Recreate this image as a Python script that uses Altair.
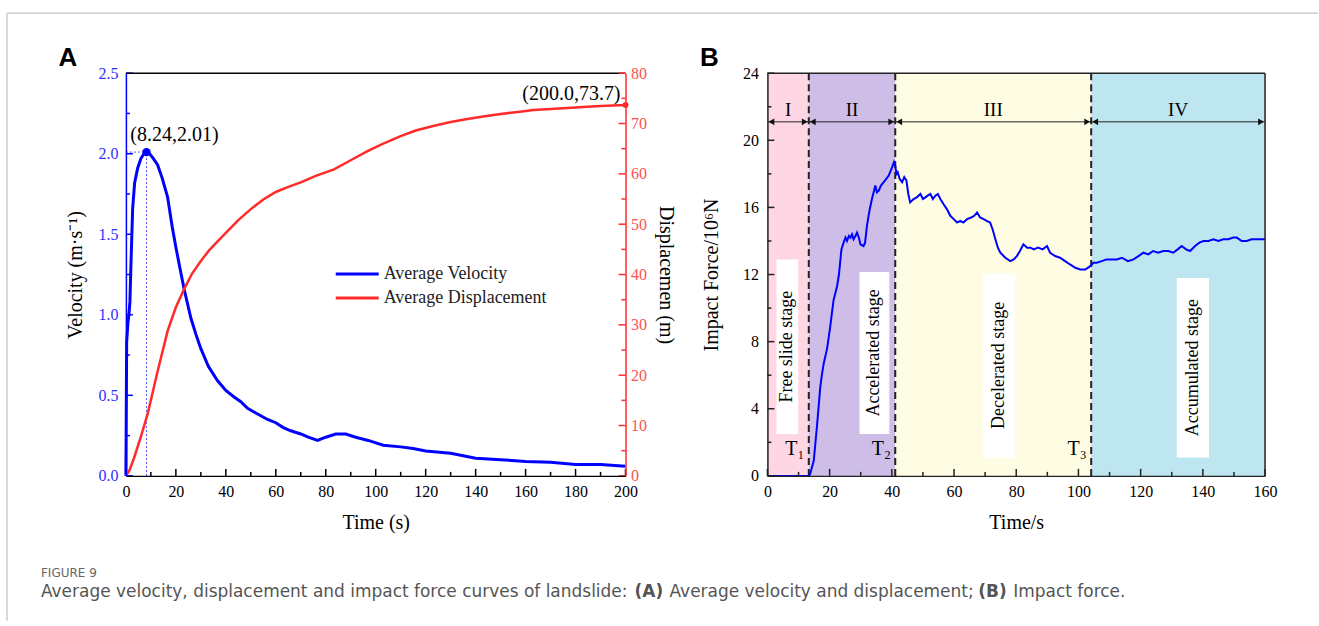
import altair as alt
import pandas as pd

SERIF = "Liberation Serif"
SANS = "Liberation Sans"
CAP = "DejaVu Sans"

# ---------------- Panel A data ----------------
series_names = ["Average Velocity", "Average Displacement"]
vel_t = [0, 0.3, 0.8, 1.2, 1.6, 2.0, 2.7, 3.5, 4.7, 6.0, 7.2, 8.24, 9.5, 11.0, 12.7, 14.5,
         16.7, 18.5, 20.0, 21.5, 23.3, 26.0, 28, 30, 33, 36.7, 40, 43.3, 46, 48.7, 52,
         56.7, 60, 63, 66, 70, 73, 76.7, 80, 84, 88, 92, 97, 103, 110, 115, 120, 130,
         140, 150, 160, 170, 180, 190, 200]
vel_v = [0, 0.83, 0.95, 1.0, 1.08, 1.3, 1.66, 1.82, 1.91, 1.97, 2.0, 2.01, 2.0, 1.97, 1.93,
         1.85, 1.73, 1.55, 1.42, 1.3, 1.16, 0.98, 0.88, 0.79, 0.68, 0.59, 0.53, 0.49, 0.46,
         0.42, 0.39, 0.35, 0.33, 0.30, 0.28, 0.26, 0.24, 0.22, 0.24, 0.26, 0.26, 0.24, 0.22,
         0.19, 0.18, 0.17, 0.155, 0.14, 0.11, 0.10, 0.09, 0.085, 0.07, 0.07, 0.06]
disp_t = [0, 1.5, 3.3, 6, 8.7, 12.7, 16.7, 20, 23.3, 26.5, 30, 33.3, 36.7, 40.7, 45, 50, 55,
          60, 65, 70, 76, 83.3, 90, 96.7, 103, 110, 116, 123, 130, 136.7, 143, 150, 157,
          163, 170, 176.7, 183, 190, 200]
disp_d = [0, 1.2, 3.6, 7.8, 12.3, 20.8, 28.8, 33.5, 37.1, 40.2, 42.7, 44.8, 46.6, 48.6,
          50.8, 53.0, 54.9, 56.4, 57.4, 58.3, 59.6, 60.9, 62.7, 64.5, 66.0, 67.5, 68.6,
          69.5, 70.3, 70.9, 71.4, 71.9, 72.3, 72.7, 72.9, 73.1, 73.3, 73.5, 73.7]
peak_t, peak_v = 8.24, 2.01
end_t, end_d = 200.0, 73.7
peak_label = "(8.24,2.01)"
end_label = "(200.0,73.7)"
a_x_major = list(range(0, 201, 20))
a_x_minor = list(range(10, 200, 20))
vel_major = [0.0, 0.5, 1.0, 1.5, 2.0, 2.5]
vel_minor = [0.25, 0.75, 1.25, 1.75, 2.25]
disp_major = list(range(0, 81, 10))
disp_minor = list(range(5, 80, 10))

# ---------------- Panel B data ----------------
force_t = [0, 13.3, 13.7, 14.9, 16.0, 17.0, 17.5, 18.1, 19.2, 20.2, 20.8, 21.3, 22.4, 23.0,
           23.8, 24.5, 25.1, 25.6, 26.2, 26.7, 27.2, 27.7, 28.3, 28.8, 29.4, 29.9, 30.9,
           31.4, 32.0, 32.8, 33.6, 34.7, 35.2, 35.8, 36.5, 37.4, 38.2, 39.0, 40.1, 40.7,
           41.1, 41.5, 41.9, 42.5, 43.3, 44.0, 44.7, 45.3, 45.9, 47.0, 48.0, 49.2, 50.0,
           50.8, 51.5, 52.4, 53.2, 54.0, 54.8, 55.6, 56.6, 57.7, 58.8, 59.9, 61.0, 62.0,
           63.0, 64.2, 65.5, 66.5, 67.4, 68.4, 69.5, 70.5, 71.6, 72.4, 73.3, 74.1, 74.9,
           76.5, 78.1, 79.2, 80.2, 81.2, 82.3, 83.5, 84.6, 85.6, 87.0, 88.5, 89.9, 90.9,
           92.5, 94.1, 95.7, 97.3, 99.0, 100.6, 102.2, 103.8, 104.8, 105.9, 107.5, 109.0,
           110.6, 112.3, 114.0, 115.9, 117.7, 119.3, 120.9, 122.5, 124.0, 125.6, 127.3,
           128.9, 130.5, 131.9, 133.2, 134.6, 135.9, 137.5, 138.9, 140.2, 141.8, 143.4,
           145.0, 146.6, 148.2, 149.8, 150.9, 152.5, 154.1, 155.7, 157.3, 158.6, 160]
force_f = [0, 0, 0.1, 0.9, 3.1, 5.3, 6.0, 6.7, 7.6, 8.9, 9.8, 10.5, 11.3, 12.0,
           13.5, 13.9, 14.2, 14.0, 14.3, 14.2, 14.4, 14.1, 14.3, 14.5, 14.2, 13.8, 13.7,
           13.9, 14.9, 15.8, 16.5, 17.3, 16.9, 17.0, 17.3, 17.5, 17.7, 17.9, 18.4, 18.7,
           18.5, 18.0, 18.1, 17.7, 17.5, 17.8, 17.6, 16.8, 16.3, 16.5, 16.6, 16.8, 16.5,
           16.6, 16.7, 16.8, 16.5, 16.7, 16.8, 16.5, 16.2, 15.9, 15.5, 15.3, 15.1, 15.2,
           15.1, 15.3, 15.4, 15.5, 15.7, 15.4, 15.3, 15.2, 15.1, 14.7, 14.1, 13.6, 13.3,
           13.0, 12.8, 12.9, 13.1, 13.4, 13.8, 13.6, 13.6, 13.5, 13.6, 13.5, 13.7, 13.3,
           13.1, 13.0, 12.8, 12.6, 12.4, 12.3, 12.3, 12.5, 12.7, 12.7, 12.8, 12.9,
           12.9, 12.9, 13.0, 12.8, 12.9, 13.1, 13.3, 13.2, 13.4, 13.3, 13.4,
           13.4, 13.3, 13.5, 13.7, 13.5, 13.4, 13.7, 13.9, 14.0, 14.0, 14.1,
           14.0, 14.1, 14.1, 14.2, 14.2, 14.0, 14.0, 14.1, 14.1, 14.1, 14.1]
stage_num = ["I", "II", "III", "IV"]
stage_start = [0, 13.3, 41.1, 104.1]
stage_end = [13.3, 41.1, 104.1, 160]
stage_text = ["Free slide  stage", "Accelerated  stage", "Decelerated  stage", "Accumulated  stage"]
stage_colors = ["#FFD6E4", "#CDBDE7", "#FEFDE3", "#BEE6F0"]
box_x0 = [2.9, 29.6, 69.3, 131.6]
box_x1 = [9.9, 39.2, 79.7, 142.0]
box_y0 = [2.5, 2.5, 1.1, 1.1]
box_y1 = [12.9, 12.15, 12.07, 11.8]
t_marks = [13.3, 41.1, 104.1]
t_names = ["T\u2081", "T\u2082", "T\u2083"]
b_x_major = list(range(0, 161, 20))
b_x_minor = list(range(10, 160, 20))
f_major = list(range(0, 25, 4))
f_minor = list(range(2, 24, 4))
arrow_level = 21.1
roman_level = 21.8
t_label_level = 1.6

caption_head = "FIGURE 9"
caption_parts = ["Average velocity, displacement and impact force curves of landslide:",
                 "(A)", "Average velocity and displacement;", "(B)", "Impact force."]

# ---------------- layout sizes ----------------
WA, HA = 500, 403
WB, HB = 498, 403
BLUE = "#0000FF"
RED = "#FF2A2A"
MAJ, MIN = 7, 4


def txt(label, x, y, **kw):
    return alt.Chart(pd.DataFrame({"label": [label]})).mark_text(**kw).encode(
        x=alt.value(x), y=alt.value(y), text="label:N")


def hrule(x1, x2, y, **kw):
    return alt.Chart(pd.DataFrame({"a": [0]})).mark_rule(**kw).encode(
        x=alt.value(x1), x2=alt.value(x2), y=alt.value(y))


def vrule(x, y1, y2, **kw):
    return alt.Chart(pd.DataFrame({"a": [0]})).mark_rule(**kw).encode(
        x=alt.value(x), y=alt.value(y1), y2=alt.value(y2))


def xticks(vals, scale, axis, H, length, color="black"):
    return alt.Chart(pd.DataFrame({"tick": vals})).mark_rule(color=color, strokeWidth=1.5).encode(
        x=alt.X("tick:Q", scale=scale, axis=axis), y=alt.value(H), y2=alt.value(H - length))


def yticks(vals, scale, axis, x0, length, color):
    return alt.Chart(pd.DataFrame({"tick": vals})).mark_rule(color=color, strokeWidth=1.5).encode(
        y=alt.Y("tick:Q", scale=scale, axis=axis), x=alt.value(x0), x2=alt.value(x0 + length))


# ================= Panel A =================
xA = alt.Scale(domain=[0, 200], nice=False, zero=False)
yV = alt.Scale(domain=[0, 2.5], nice=False)
yD = alt.Scale(domain=[0, 80], nice=False)

xA_axis = alt.Axis(values=a_x_major, title="Time (s)", ticks=False, grid=False,
                   domainColor="black", domainWidth=1.5, labelFont=SERIF, labelFontSize=16,
                   labelColor="black", labelPadding=8, labelFlush=False,
                   titleFont=SERIF, titleFontSize=20, titleFontWeight="normal",
                   titleColor="black", titlePadding=13, zindex=1)
yV_axis = alt.Axis(orient="left", values=vel_major, format=".1f", title="Velocity (m·s⁻¹)",
                   ticks=False, grid=False, domainColor=BLUE, domainWidth=1.5,
                   labelColor="#3030FF", labelFont=SERIF, labelFontSize=16, labelPadding=8,
                   titleFont=SERIF, titleFontSize=20, titleFontWeight="normal",
                   titleColor="black", titlePadding=12, zindex=1)
yD_axis = alt.Axis(orient="right", values=disp_major, title="Displacemen (m)",
                   ticks=False, grid=False, domainColor=RED, domainWidth=1.5,
                   labelColor="#FF5050", labelFont=SERIF, labelFontSize=16, labelPadding=5,
                   titleFont=SERIF, titleFontSize=20, titleFontWeight="normal",
                   titleColor="black", titlePadding=9, zindex=1)

vel_df = pd.DataFrame({"t": vel_t, "v": vel_v})
disp_df = pd.DataFrame({"t": disp_t, "d": disp_d})
peak_df = pd.DataFrame({"t": [peak_t], "v": [peak_v], "z": [0.0], "label": [peak_label]})
end_df = pd.DataFrame({"t": [end_t], "d": [end_d], "label": [end_label]})


def XA(f):
    return alt.X(f, scale=xA, axis=xA_axis)


def YV(f):
    return alt.Y(f, scale=yV, axis=yV_axis)


def YD(f):
    return alt.Y(f, scale=yD, axis=yD_axis)


vel_line = alt.Chart(vel_df).mark_line(color=BLUE, strokeWidth=3).encode(x=XA("t:Q"), y=YV("v:Q"))
peak_v_rule = alt.Chart(peak_df).mark_rule(color="#5555FF", strokeWidth=1, strokeDash=[2, 2]).encode(
    x=XA("t:Q"), y=YV("z:Q"), y2="v:Q")
peak_h_rule = alt.Chart(peak_df).mark_rule(color="#5555FF", strokeWidth=1, strokeDash=[2, 2]).encode(
    x=XA("z:Q"), x2="t:Q", y=YV("v:Q"))
peak_pt = alt.Chart(peak_df).mark_circle(color=BLUE, size=70, opacity=1).encode(x=XA("t:Q"), y=YV("v:Q"))
peak_txt = alt.Chart(peak_df).mark_text(font=SERIF, fontSize=20, color="black", dx=28, dy=-17,
                                        align="center", baseline="middle").encode(
    x=XA("t:Q"), y=YV("v:Q"), text="label:N")

cap_kw = dict(font=CAP, fontSize=17, color="#555555", align="left", baseline="middle")
vel_group = alt.layer(
    vel_line,
    xticks(a_x_major, xA, xA_axis, HA, MAJ), xticks(a_x_minor, xA, xA_axis, HA, MIN),
    yticks(vel_major, yV, yV_axis, 0, MAJ, BLUE), yticks(vel_minor, yV, yV_axis, 0, MIN, BLUE),
    peak_v_rule, peak_h_rule, peak_pt, peak_txt,
    hrule(0, WA, 0, color="black", strokeWidth=1.5),
    hrule(210, 253, 201, color=BLUE, strokeWidth=3),
    hrule(210, 253, 225, color=RED, strokeWidth=3),
    txt(series_names[0], 258, 201, font=SERIF, fontSize=18, color="#222222", align="left", baseline="middle"),
    txt(series_names[1], 258, 225, font=SERIF, fontSize=18, color="#222222", align="left", baseline="middle"),
    txt("A", -58, -15, font=SANS, fontSize=26, fontWeight="bold", color="black", align="center", baseline="middle"),
    hrule(-119, 1193, -60, color="#CCCCCC", strokeWidth=1.5),
    vrule(-119, -60, 548, color="#CCCCCC", strokeWidth=1.5),
    txt(caption_head, -85, 500, font=CAP, fontSize=12, color="#666666", align="left", baseline="middle"),
    txt(caption_parts[0], -85, 519, **cap_kw),
    txt(caption_parts[1], 509, 519, **{**cap_kw, "fontWeight": "bold"}),
    txt(caption_parts[2], 544, 519, **cap_kw),
    txt(caption_parts[3], 853, 519, **{**cap_kw, "fontWeight": "bold"}),
    txt(caption_parts[4], 888, 519, **cap_kw),
)

disp_line = alt.Chart(disp_df).mark_line(color=RED, strokeWidth=2.5).encode(x=XA("t:Q"), y=YD("d:Q"))
end_pt = alt.Chart(end_df).mark_circle(color=RED, size=35, opacity=1).encode(x=XA("t:Q"), y=YD("d:Q"))
end_txt = alt.Chart(end_df).mark_text(font=SERIF, fontSize=20, color="black", dx=-5, dy=-11,
                                      align="right", baseline="middle").encode(
    x=XA("t:Q"), y=YD("d:Q"), text="label:N")

disp_group = alt.layer(
    disp_line,
    yticks(disp_major, yD, yD_axis, WA - MAJ, MAJ, RED), yticks(disp_minor, yD, yD_axis, WA - MIN, MIN, RED),
    end_pt, end_txt,
)

panelA = alt.layer(vel_group, disp_group).resolve_scale(y="independent").properties(width=WA, height=HA)

# ================= Panel B =================
xB = alt.Scale(domain=[0, 160], nice=False, zero=False)
yF = alt.Scale(domain=[0, 24], nice=False)
xB_axis = alt.Axis(values=b_x_major, title="Time/s", ticks=False, grid=False,
                   domainColor="#222222", domainWidth=1.5, labelFont=SERIF, labelFontSize=16,
                   labelColor="black", labelPadding=8, labelFlush=False,
                   titleFont=SERIF, titleFontSize=20, titleFontWeight="normal",
                   titleColor="black", titlePadding=13, zindex=1)
yF_axis = alt.Axis(orient="left", values=f_major, title="Impact Force/10⁶N", ticks=False, grid=False,
                   domainColor="#222222", domainWidth=1.5, labelFont=SERIF, labelFontSize=16,
                   labelColor="black", labelPadding=9,
                   titleFont=SERIF, titleFontSize=20, titleFontWeight="normal",
                   titleColor="black", titlePadding=21, zindex=1)


def XB(f):
    return alt.X(f, scale=xB, axis=xB_axis)


def YF(f):
    return alt.Y(f, scale=yF, axis=yF_axis)


def YFd(v):
    return alt.YDatum(v, scale=yF, axis=yF_axis)


stage_df = pd.DataFrame({"stage": stage_num, "start": stage_start, "end": stage_end,
                         "mid": [(a + b) / 2 for a, b in zip(stage_start, stage_end)],
                         "text": stage_text,
                         "bx0": box_x0, "bx1": box_x1, "by0": box_y0, "by1": box_y1,
                         "bxm": [(a + b) / 2 for a, b in zip(box_x0, box_x1)],
                         "bym": [(a + b) / 2 for a, b in zip(box_y0, box_y1)]})
tmark_df = pd.DataFrame({"t": t_marks, "name": t_names})
force_df = pd.DataFrame({"t": force_t, "f": force_f})

bands = alt.Chart(stage_df).mark_rect(opacity=1).encode(
    x=XB("start:Q"), x2="end:Q",
    y=alt.value(0), y2=alt.value(HB),
    color=alt.Color("stage:N", scale=alt.Scale(domain=stage_num, range=stage_colors), legend=None))
dashes = alt.Chart(tmark_df).mark_rule(color="#222222", strokeWidth=2, strokeDash=[7, 4]).encode(
    x=XB("t:Q"), y=alt.value(0), y2=alt.value(HB))
arrows = alt.Chart(stage_df).mark_rule(color="#222222", strokeWidth=1).encode(
    x=XB("start:Q"), x2="end:Q", y=YFd(arrow_level))
head_l = alt.Chart(stage_df).mark_point(shape="triangle-left", filled=True, size=45, color="#111111",
                                        opacity=1, xOffset=4).encode(x=XB("start:Q"), y=YFd(arrow_level))
head_r = alt.Chart(stage_df).mark_point(shape="triangle-right", filled=True, size=45, color="#111111",
                                        opacity=1, xOffset=-4).encode(x=XB("end:Q"), y=YFd(arrow_level))
romans = alt.Chart(stage_df).mark_text(font=SERIF, fontSize=19, color="black", baseline="middle").encode(
    x=XB("mid:Q"), y=YFd(roman_level), text="stage:N")
boxes = alt.Chart(stage_df).mark_rect(color="white", opacity=1).encode(
    x=XB("bx0:Q"), x2="bx1:Q", y=YF("by0:Q"), y2="by1:Q")
box_txt = alt.Chart(stage_df).mark_text(font=SERIF, fontSize=18, color="black", angle=270,
                                        align="center", baseline="middle").encode(
    x=XB("bxm:Q"), y=YF("bym:Q"), text="text:N")
t_txt = alt.Chart(tmark_df).mark_text(font=SERIF, fontSize=20, color="black", dx=-14,
                                      align="center", baseline="middle").encode(
    x=XB("t:Q"), y=YFd(t_label_level), text="name:N")
force_line = alt.Chart(force_df).mark_line(color=BLUE, strokeWidth=2).encode(x=XB("t:Q"), y=YF("f:Q"))

panelB = alt.layer(
    bands, boxes, box_txt, dashes, arrows, head_l, head_r, romans, t_txt, force_line,
    xticks(b_x_major, xB, xB_axis, HB, MAJ, "#222222"), xticks(b_x_minor, xB, xB_axis, HB, MIN, "#222222"),
    yticks(f_major, yF, yF_axis, 0, MAJ, "#222222"), yticks(f_minor, yF, yF_axis, 0, MIN, "#222222"),
    hrule(0, WB, 0, color="#222222", strokeWidth=1.5),
    vrule(WB, 0, HB, color="#222222", strokeWidth=1.5),
    txt("B", -58, -15, font=SANS, fontSize=26, fontWeight="bold", color="black", align="center", baseline="middle"),
).properties(width=WB, height=HB)

chart = alt.hconcat(panelA, panelB, spacing=142, bounds="flush").properties(
    padding={"left": 6, "top": 12, "right": 0, "bottom": 0},
    background="white",
).configure_view(stroke=None)

chart.save("out.html", embed_options={"renderer": "svg", "actions": False})
